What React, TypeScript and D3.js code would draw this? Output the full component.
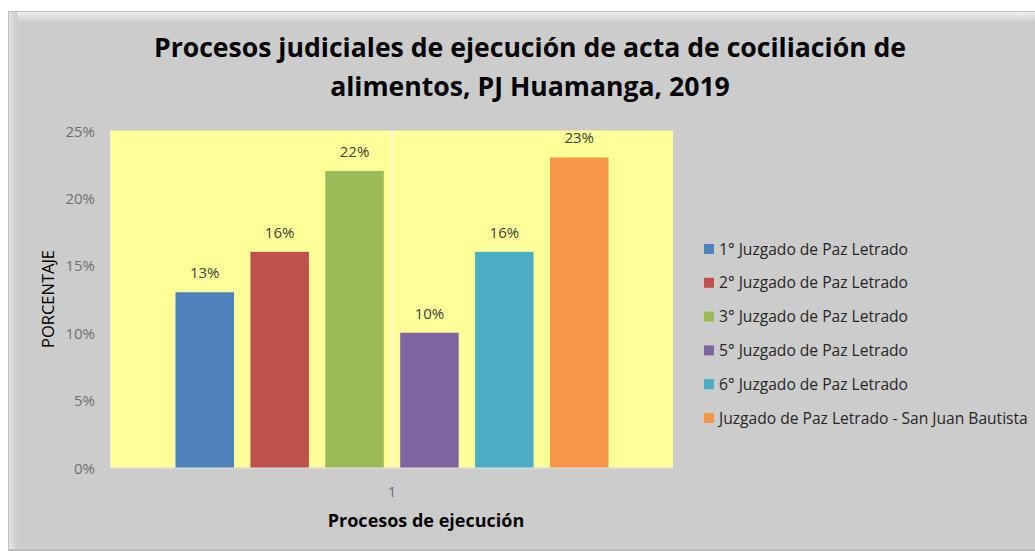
import React from "react";
import * as d3 from "d3";

const categories = ["1"];
const seriesNames = [
  "1° Juzgado de Paz Letrado",
  "2° Juzgado de Paz Letrado",
  "3° Juzgado de Paz Letrado",
  "5° Juzgado de Paz Letrado",
  "6° Juzgado de Paz Letrado",
  "Juzgado de Paz Letrado - San Juan Bautista",
];
const seriesValues = [0.13, 0.16, 0.22, 0.1, 0.16, 0.23];
const seriesColors = ["#4f81bd", "#c0504d", "#9bbb59", "#8064a2", "#4bacc6", "#f79646"];
const yTicks = [0, 0.05, 0.1, 0.15, 0.2, 0.25];
const titleLines = [
  "Procesos judiciales de ejecución de acta de cociliación de",
  "alimentos, PJ Huamanga, 2019",
];

const W = 1035;
const H = 551;
const plot = { left: 111, right: 673, top: 130.5, bottom: 467.5 };
const FONT = "'Open Sans', sans-serif";

export default function App() {
  const y = d3.scaleLinear().domain([0, 0.25]).range([plot.bottom, plot.top]);
  const x0 = d3
    .scaleBand()
    .domain(categories)
    .range([plot.left, plot.right])
    .paddingInner(0)
    .paddingOuter(0.149);
  const x1 = d3
    .scaleBand()
    .domain(seriesNames)
    .range([0, x0.bandwidth()])
    .paddingInner(0.219)
    .paddingOuter(0);
  const fmt = d3.format(".0%");

  return (
    <svg
      width={W}
      height={H}
      style={{ position: "absolute", left: 0, top: 0, background: "#ffffff" }}
      fontFamily={FONT}
    >
      <defs>
        <linearGradient id="topEdge" x1="0" y1="0" x2="0" y2="1">
          <stop offset="0" stopColor="#f0f0f0" />
          <stop offset="1" stopColor="#cccccc" />
        </linearGradient>
        <linearGradient id="leftEdge" x1="0" y1="0" x2="1" y2="0">
          <stop offset="0" stopColor="#e6e6e6" />
          <stop offset="1" stopColor="#cccccc" />
        </linearGradient>
      </defs>
      {/* panel */}
      <rect x={8} y={11} width={1040} height={540} fill="#bdbdbd" />
      <rect x={9} y={12} width={1040} height={537} fill="#cccccc" />
      <rect x={9} y={12} width={1040} height={10} fill="url(#topEdge)" />
      <rect x={9} y={12} width={8} height={537} fill="url(#leftEdge)" />
      <rect x={17} y={22} width={1030} height={526} fill="#cccccc" />
      <line x1={8} x2={1040} y1={549.5} y2={549.5} stroke="#b8b8b8" />

      {/* title */}
      {titleLines.map((t, i) => (
        <text
          key={i}
          x={530}
          y={57 + i * 39}
          textAnchor="middle"
          fontSize={26.6}
          fontWeight="bold"
          fill="#000000"
        >
          {t}
        </text>
      ))}

      {/* plot area */}
      <rect
        x={plot.left}
        y={plot.top}
        width={plot.right - plot.left}
        height={plot.bottom - plot.top}
        fill="#ffff99"
      />
      <line x1={plot.left - 0.5} x2={plot.left - 0.5} y1={plot.top} y2={plot.bottom} stroke="#eeeeee" />
      <line x1={plot.left} x2={plot.right} y1={plot.bottom + 0.5} y2={plot.bottom + 0.5} stroke="#e4e4e4" />
      {categories.map((c) => (
        <line
          key={c}
          x1={(x0(c) as number) + x0.bandwidth() / 2}
          x2={(x0(c) as number) + x0.bandwidth() / 2}
          y1={plot.top}
          y2={plot.bottom}
          stroke="#f4f4f4"
          strokeWidth={1.5}
        />
      ))}

      {/* bars */}
      {categories.map((c) =>
        seriesNames.map((s, i) => {
          const bx = (x0(c) as number) + (x1(s) as number);
          const v = seriesValues[i];
          return (
            <g key={s}>
              <rect
                x={bx}
                y={y(v)}
                width={x1.bandwidth()}
                height={y(0) - y(v)}
                fill={seriesColors[i]}
              />
              <text
                x={bx + x1.bandwidth() / 2}
                y={y(v) - 14}
                textAnchor="middle"
                fontSize={15}
                fill="#404040"
              >
                {fmt(v)}
              </text>
            </g>
          );
        })
      )}

      {/* y axis ticks */}
      {yTicks.map((t) => (
        <text
          key={t}
          x={95}
          y={y(t) + 6}
          textAnchor="end"
          fontSize={15}
          fill="#6e6e6e"
        >
          {fmt(t)}
        </text>
      ))}
      <text
        transform={`translate(54, ${(plot.top + plot.bottom) / 2}) rotate(-90)`}
        textAnchor="middle"
        fontSize={16.5}
        fill="#000000"
      >
        PORCENTAJE
      </text>

      {/* x axis */}
      {categories.map((c) => (
        <text
          key={c}
          x={(x0(c) as number) + x0.bandwidth() / 2}
          y={497}
          textAnchor="middle"
          fontSize={15}
          fill="#6e6e6e"
        >
          {c}
        </text>
      ))}
      <text x={426} y={527} textAnchor="middle" fontSize={18} fontWeight="bold" fill="#000000">
        Procesos de ejecución
      </text>

      {/* legend */}
      {seriesNames.map((s, i) => (
        <g key={s} transform={`translate(704, ${249 + i * 33.8})`}>
          <rect x={0} y={-5} width={10} height={10} fill={seriesColors[i]} />
          <text x={15} y={5.5} fontSize={15.6} fill="#262626">
            {s}
          </text>
        </g>
      ))}
    </svg>
  );
}
